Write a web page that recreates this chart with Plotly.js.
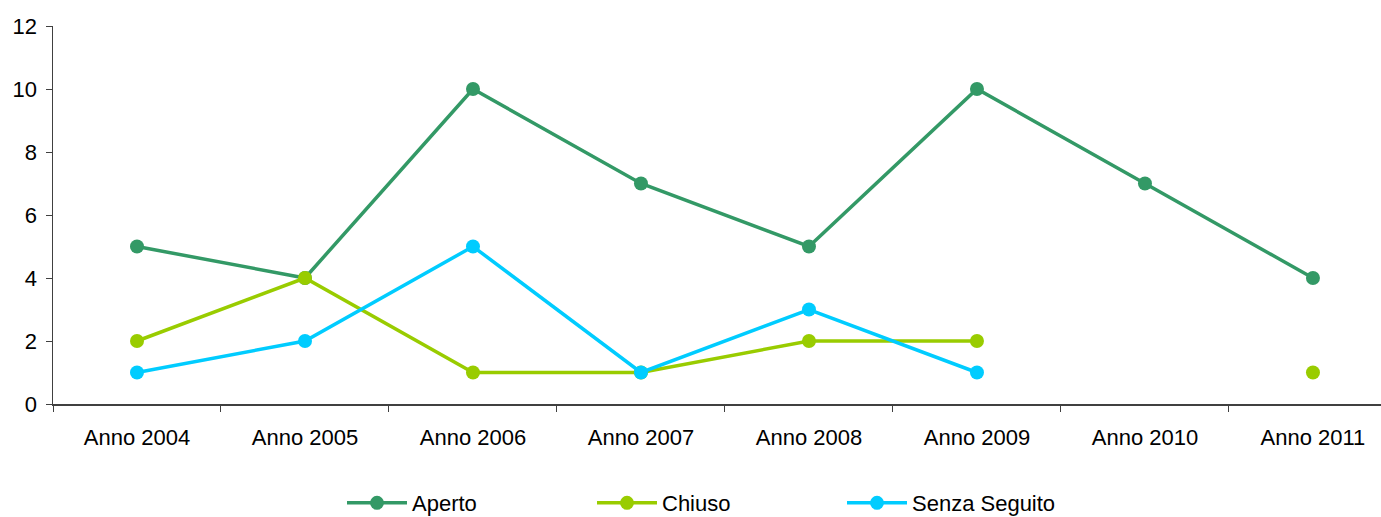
<!DOCTYPE html>
<html>
<head>
<meta charset="utf-8">
<script src="https://cdn.plot.ly/plotly-3.0.1.min.js"></script>
<style>html,body{margin:0;padding:0;background:#fff;}#chart{width:1381px;height:517px;}</style>
</head>
<body>
<div id="chart"></div>
<script>
const categories = ["Anno 2004","Anno 2005","Anno 2006","Anno 2007","Anno 2008","Anno 2009","Anno 2010","Anno 2011"];
const aperto = [5,4,10,7,5,10,7,4];
const chiuso = [2,4,1,1,2,2,null,1];
const senzaSeguito = [1,2,5,1,3,1,null,null];
const yTicks = [0,2,4,6,8,10,12];

function series(name, values, color){
  return {
    x: categories, y: values, name: name, type: 'scatter', mode: 'lines+markers',
    line: {color: color, width: 3.5}, marker: {color: color, size: 14},
    connectgaps: false
  };
}
const data = [
  series('Aperto', aperto, '#339966'),
  series('Chiuso', chiuso, '#99CC00'),
  series('Senza Seguito', senzaSeguito, '#00CCFF')
];
const layout = {
  width: 1381, height: 517,
  margin: {l: 53, r: 0, t: 26, b: 113, autoexpand: false},
  paper_bgcolor: '#fff', plot_bgcolor: '#fff',
  font: {family: 'Liberation Sans, Arial, sans-serif', size: 22, color: '#000'},
  showlegend: true,
  legend: {orientation: 'h', x: 0.5, xanchor: 'center', yref: 'container', y: 0.027, yanchor: 'middle',
    itemwidth: 60, entrywidth: 175, entrywidthmode: 'pixels', font: {size: 22}},
  xaxis: {
    type: 'category', range: [-0.5, 7.405], showgrid: false, zeroline: false,
    showline: true, linecolor: '#404040', linewidth: 1.5,
    ticks: 'outside', tickson: 'boundaries', ticklen: 6, tickcolor: '#404040',
    ticklabelstandoff: 13, tickfont: {size: 22}, fixedrange: true
  },
  yaxis: {
    range: [0, 12], tickvals: yTicks, showgrid: false, zeroline: false,
    showline: true, linecolor: '#404040', linewidth: 1.5,
    ticks: 'outside', ticklen: 6, tickcolor: '#404040', ticklabelstandoff: 4, tickfont: {size: 22}
  }
};
Plotly.newPlot('chart', data, layout, {displayModeBar: false, staticPlot: true});
</script>
</body>
</html>
